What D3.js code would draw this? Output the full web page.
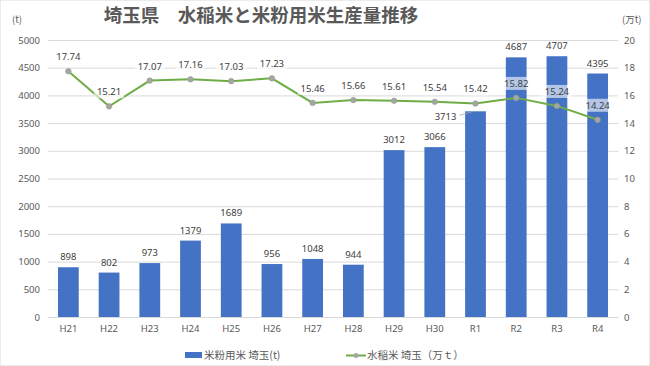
<!DOCTYPE html>
<html><head><meta charset="utf-8">
<script src="https://cdn.jsdelivr.net/npm/d3@7/dist/d3.min.js"></script>
<style>
body{margin:0;background:#fff;}
svg{display:block;font-family:"Noto Sans CJK JP","Noto Sans",sans-serif;}
</style></head>
<body><svg id="c" width="650" height="366"></svg>
<script>
const categories = ["H21","H22","H23","H24","H25","H26","H27","H28","H29","H30","R1","R2","R3","R4"];
const riceFlour = [898,802,973,1379,1689,956,1048,944,3012,3066,3713,4687,4707,4395];
const paddyRice = [17.74,15.21,17.07,17.16,17.03,17.23,15.46,15.66,15.61,15.54,15.42,15.82,15.24,14.24];
const leftTicks = [0,500,1000,1500,2000,2500,3000,3500,4000,4500,5000];
const rightTicks = [0,2,4,6,8,10,12,14,16,18,20];
const titleText = "埼玉県　水稲米と米粉用米生産量推移";
const legendBar = "米粉用米 埼玉(t)";
const legendLine = "水稲米 埼玉（万ｔ）";

const svg = d3.select("#c");
const W=650,H=366;
const L=48,R=618,T=40,B=317;
const textCol="#595959";
const numFont="'Noto Sans','DejaVu Sans',sans-serif";
svg.append("rect").attr("width",W).attr("height",H).attr("fill","#fff").attr("stroke","#d9d9d9");

const x = d3.scaleBand().domain(categories).range([L,R]).paddingInner(0.49).paddingOuter(0.245);
const yL = d3.scaleLinear().domain([0,5000]).range([B,T]);
const yR = d3.scaleLinear().domain([0,20]).range([B,T]);

// gridlines
svg.append("g").selectAll("line").data(leftTicks).join("line")
  .attr("x1",L).attr("x2",R).attr("y1",d=>yL(d)+0.5).attr("y2",d=>yL(d)+0.5)
  .attr("stroke","#d9d9d9").attr("stroke-width",1);

// left axis
const ga = svg.append("g").attr("transform",`translate(${L},0)`)
  .call(d3.axisLeft(yL).tickValues(leftTicks).tickFormat(d3.format("d")).tickSize(0).tickPadding(8));
ga.select(".domain").remove();
ga.selectAll("text").attr("fill",textCol).style("font-size","9.5px").style("font-family",numFont);

// right axis
const gr = svg.append("g").attr("transform",`translate(${R},0)`)
  .call(d3.axisRight(yR).tickValues(rightTicks).tickFormat(d3.format("d")).tickSize(0).tickPadding(6));
gr.select(".domain").remove();
gr.selectAll("text").attr("fill",textCol).style("font-size","9.5px").style("font-family",numFont);

// x axis
const gx = svg.append("g").attr("transform",`translate(0,${B})`)
  .call(d3.axisBottom(x).tickSize(0).tickPadding(8));
gx.select(".domain").attr("stroke","#d9d9d9");
gx.selectAll("text").attr("fill",textCol).style("font-size","9.5px").style("font-family",numFont);

// bars
svg.append("g").selectAll("rect").data(categories).join("rect")
  .attr("x",d=>x(d)).attr("width",x.bandwidth())
  .attr("y",(d,i)=>yL(riceFlour[i])).attr("height",(d,i)=>B-yL(riceFlour[i]))
  .attr("fill","#4472C4");

// bar labels
const bl = svg.append("g").style("font-family",numFont).style("font-size","9.5px").attr("fill","#404040");
categories.forEach((c,i)=>{
  const cx = x(c)+x.bandwidth()/2;
  const ty = yL(riceFlour[i]);
  if(c==="R1"){
    bl.append("text").attr("x",cx-30).attr("y",ty+9).attr("text-anchor","middle").text(riceFlour[i]);
    svg.append("line").attr("x1",cx-16).attr("y1",ty+4).attr("x2",cx-2).attr("y2",ty).attr("stroke","#a6a6a6").attr("stroke-width",0.8);
  } else {
    bl.append("text").attr("x",cx).attr("y",ty-7).attr("text-anchor","middle").text(riceFlour[i]);
  }
});

// line
const line = d3.line().x((d,i)=>x(categories[i])+x.bandwidth()/2).y(d=>yR(d));
svg.append("path").datum(paddyRice).attr("d",line).attr("fill","none")
  .attr("stroke","#70AD47").attr("stroke-width",2);
svg.append("g").selectAll("circle").data(paddyRice).join("circle")
  .attr("cx",(d,i)=>x(categories[i])+x.bandwidth()/2).attr("cy",d=>yR(d)).attr("r",2.8)
  .attr("fill","#A5A5A5").attr("stroke","#8FA080").attr("stroke-width",0.5);

// line labels
const ll = svg.append("g").style("font-family",numFont).style("font-size","9.5px");
paddyRice.forEach((v,i)=>{
  const cx = x(categories[i])+x.bandwidth()/2;
  const cy = yR(v);
  const g = ll.append("g");
  g.append("rect").attr("x",cx-15).attr("y",cy-21).attr("width",30).attr("height",13)
    .attr("fill","#fff").attr("fill-opacity",0.6);
  g.append("text").attr("x",cx).attr("y",cy-11).attr("text-anchor","middle").attr("fill","#404040").text(v.toFixed(2));
});

// title
svg.append("text").attr("x",261).attr("y",22).attr("text-anchor","middle")
  .attr("fill",textCol).style("font-size","18.5px").style("font-weight","bold").text(titleText);

// units
svg.append("text").attr("x",12).attr("y",23).attr("fill",textCol).style("font-size","9.5px").text("(t)");
svg.append("text").attr("x",622).attr("y",23).attr("fill",textCol).style("font-size","9.5px").text("(万t)");

// legend
svg.append("rect").attr("x",185).attr("y",352).attr("width",17).attr("height",6).attr("fill","#4472C4");
svg.append("text").attr("x",204).attr("y",359).attr("fill",textCol).style("font-size","10.5px").text(legendBar);
svg.append("line").attr("x1",346).attr("x2",366).attr("y1",355.5).attr("y2",355.5).attr("stroke","#70AD47").attr("stroke-width",2);
svg.append("circle").attr("cx",356).attr("cy",355.5).attr("r",2.5).attr("fill","#A5A5A5");
svg.append("text").attr("x",367).attr("y",359).attr("fill",textCol).style("font-size","10.5px").text(legendLine);
</script></body></html>
